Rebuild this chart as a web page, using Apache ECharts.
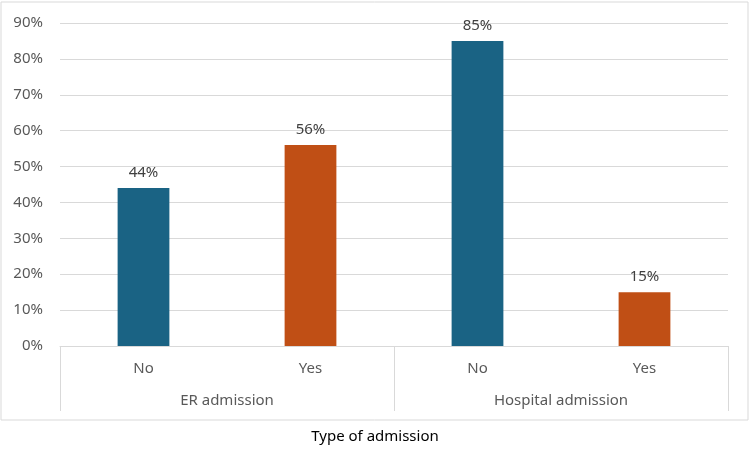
<!DOCTYPE html>
<html>
<head>
<meta charset="utf-8">
<script src="https://cdn.jsdelivr.net/npm/echarts@6/dist/echarts.min.js"></script>
<style>
html,body{margin:0;padding:0;background:#fff;}
#main{width:750px;height:456px;}
</style>
</head>
<body>
<div id="main"></div>
<script>
const categories = ['No', 'Yes', 'No', 'Yes'];
const groups = ['ER admission', 'Hospital admission'];
const values = [44, 56, 85, 15];
const barColors = ['#1a6384', '#c04f15', '#1a6384', '#c04f15'];
const yTicks = { min: 0, max: 90, interval: 10 };
const axisTitle = 'Type of admission';

const FONT = '"Noto Sans", sans-serif';
const chart = echarts.init(document.getElementById('main'));
chart.setOption({
  animation: false,
  backgroundColor: '#fff',
  textStyle: { fontFamily: FONT },
  grid: { left: 60, right: 22, top: 23, bottom: 110, containLabel: false },
  graphic: [
    { type: 'rect', shape: { x: 1, y: 2, width: 747, height: 418 },
      style: { fill: 'none', stroke: '#d9d9d9', lineWidth: 1 }, z: -1 },
    { type: 'text', left: 'center', top: 429,
      style: { text: axisTitle, fill: '#000', font: '15px ' + FONT } }
  ],
  xAxis: [
    {
      type: 'category', data: categories, position: 'bottom',
      axisLine: { show: true, lineStyle: { color: '#d9d9d9', width: 1 } },
      axisTick: { show: false },
      axisLabel: { color: '#595959', fontSize: 15, margin: 15, fontFamily: FONT }
    },
    {
      type: 'category', data: groups, position: 'bottom',
      axisLine: { show: false },
      axisTick: { show: true, length: 65, alignWithLabel: false, lineStyle: { color: '#d9d9d9', width: 1 } },
      axisLabel: { color: '#595959', fontSize: 15, margin: 47, fontFamily: FONT }
    }
  ],
  yAxis: {
    type: 'value', min: yTicks.min, max: yTicks.max, interval: yTicks.interval,
    axisLine: { show: false }, axisTick: { show: false },
    axisLabel: { color: '#595959', fontSize: 15, margin: 17, formatter: '{value}%', fontFamily: FONT },
    splitLine: { lineStyle: { color: '#d9d9d9', width: 1 } }
  },
  series: [{
    type: 'bar', xAxisIndex: 0,
    data: values.map((v, i) => ({ value: v, itemStyle: { color: barColors[i] } })),
    barWidth: '31%',
    label: { show: true, position: 'top', distance: 8, formatter: '{c}%', color: '#404040', fontSize: 15, fontFamily: FONT }
  }]
});
</script>
</body>
</html>
